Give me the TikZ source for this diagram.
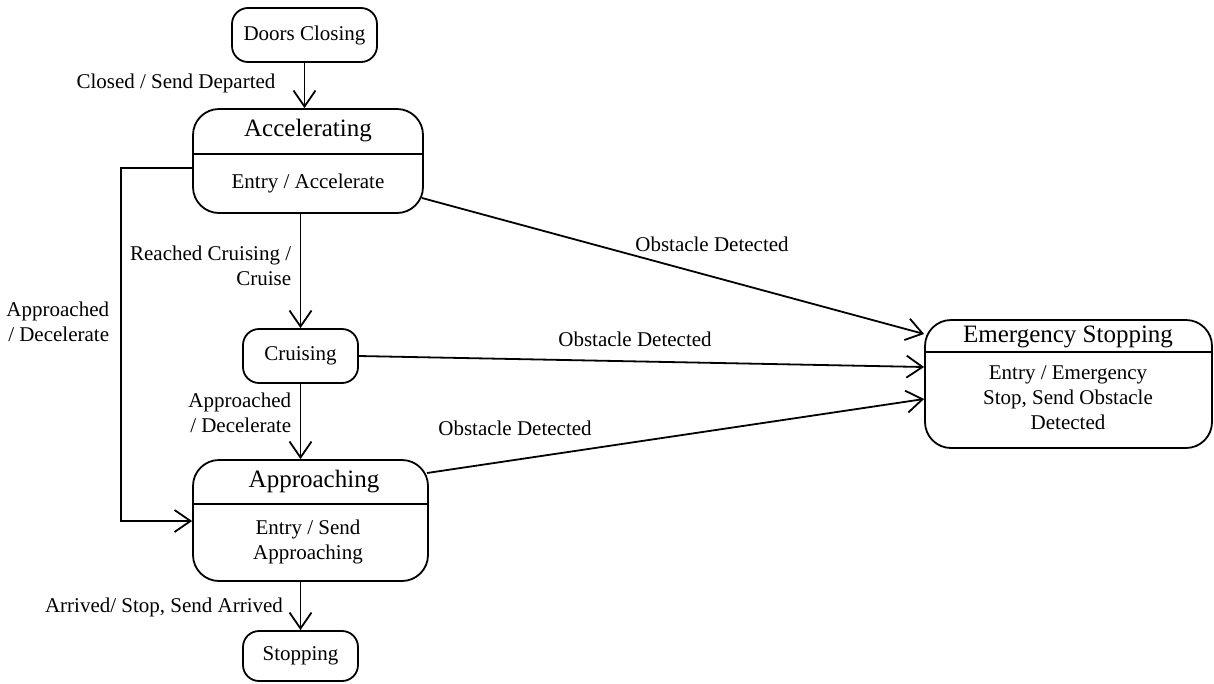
\documentclass[tikz,border=0pt]{standalone}
\usepackage{fontspec}
\setmainfont{Liberation Serif}
\usetikzlibrary{arrows.meta}

\begin{document}
\begin{tikzpicture}[x=1pt,y=-1pt,line width=1.8pt,
    every node/.style={font=\fontsize{21}{25}\selectfont,inner sep=0pt},
    statebox/.style={draw,rounded corners=#1},
    statebox/.default=16pt,
    statename/.style={font=\fontsize{25}{30}\selectfont},
    trans/.style={-{Straight Barb[length=16pt,width=22pt]}}]
    %\draw[very thin,color=gray] (0,0) grid[step=50] (1214,683);
    \useasboundingbox (0,0) rectangle (1214,683);

    % simple states
    \node[statebox,minimum width=145pt,minimum height=54pt] (doors) at (304.5,35) {Doors Closing};
    \node[statebox,minimum width=115pt,minimum height=54pt] (cruise) at (300.5,356) {Cruising};
    \node[statebox,minimum width=115pt,minimum height=50pt] (stop) at (300.5,656) {Stopping};

    % states with an entry action
    \node[statebox=26pt,minimum width=230pt,minimum height=104pt] (accel) at (308,161) {};
    \node[statename] (accelname) at (308,131) {Accelerating};
    \node (accelentry) at (308,183) {Entry / Accelerate};
    \draw (accel.west |- 0,154) -- (accel.east |- 0,154);

    \node[statebox=26pt,minimum width=235pt,minimum height=121pt] (appr) at (310.5,520.5) {};
    \node[statename] (apprname) at (314,482) {Approaching};
    \node[align=center] (apprentry) at (308,542) {Entry / Send\\Approaching};
    \draw (appr.west |- 0,504) -- (appr.east |- 0,504);

    \node[statebox=26pt,minimum width=287pt,minimum height=128pt] (emerg) at (1068.5,384) {};
    \node[statename] (emergname) at (1068,337) {Emergency Stopping};
    \node[align=center] (emergentry) at (1068,398) {Entry / Emergency\\Stop, Send Obstacle\\Detected};
    \draw (emerg.west |- 0,352) -- (emerg.east |- 0,352);

    % transitions
    \draw[trans] (doors.south) -- (doors.south |- accel.north);
    \draw[trans] (cruise.north |- accel.south) -- (cruise.north);
    \draw[trans] (cruise.south) -- (cruise.south |- appr.north);
    \draw[trans] (stop.north |- appr.south) -- (stop.north);
    \coordinate (turn1) at (121,168);
    \coordinate (turn2) at (121,521);
    \draw[trans] (accel.west |- turn1) -- (turn1) -- (turn2) -- (appr.west |- turn2);
    \coordinate (fromaccel) at (422,198);
    \coordinate (fromappr) at (427,473);
    \draw[trans] (fromaccel) -- (emerg.west |- 0,334);
    \draw[trans] (cruise.east) -- (emerg.west |- 0,367);
    \draw[trans] (fromappr) -- (emerg.west |- 0,399);

    % guards and actions
    \node (closed) at (176,83) {Closed / Send Departed};
    \node[anchor=east,align=right] (reached) at (292,266) {Reached Cruising /\\Cruise};
    \node[anchor=east,align=right] (apprmid) at (292,413) {Approached\\/ Decelerate};
    \node[anchor=east,align=right] (apprleft) at (110,322) {Approached\\/ Decelerate};
    \node (obst1) at (712,244) {Obstacle Detected};
    \node (obst2) at (635,339) {Obstacle Detected};
    \node (obst3) at (515,428) {Obstacle Detected};
    \node (arrived) at (164,607) {Arrived/ Stop, Send Arrived};
\end{tikzpicture}
\end{document}
